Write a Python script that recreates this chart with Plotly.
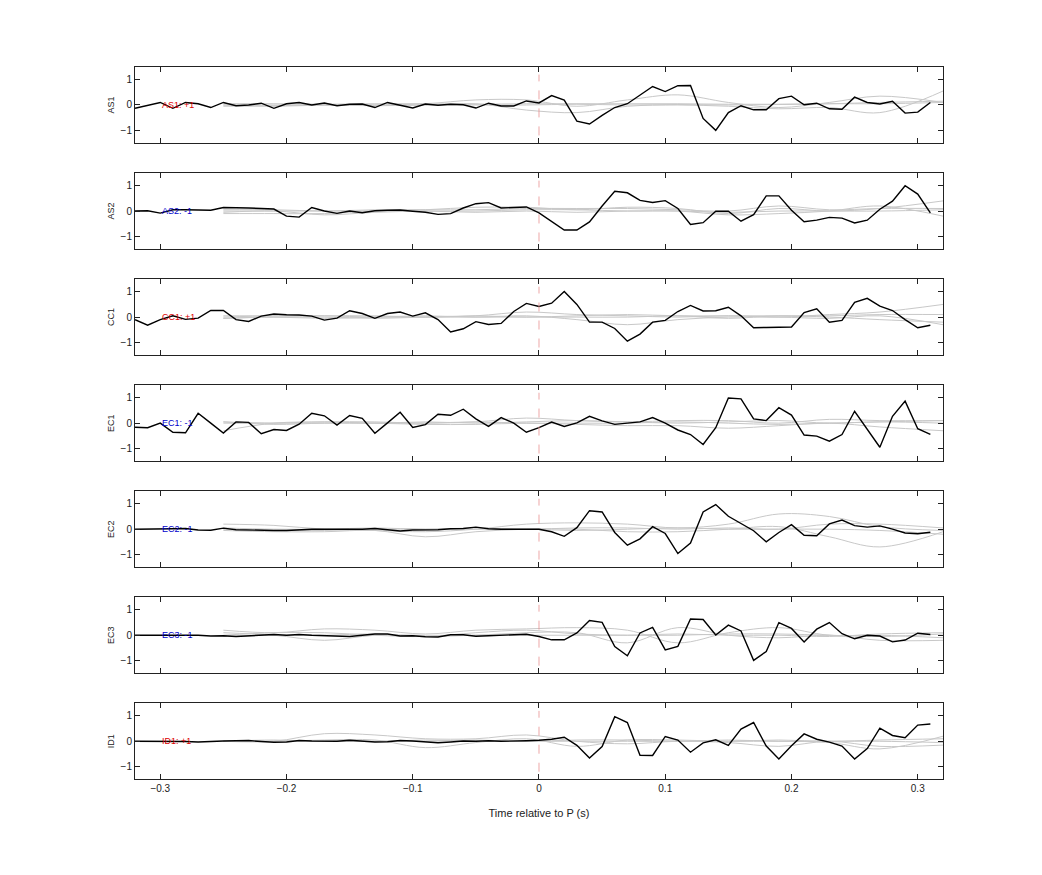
import plotly.graph_objects as go
from plotly.subplots import make_subplots

# sample times of the black (stacked) traces, -0.32 .. 0.31 s every 10 ms
t = [round(-0.32 + 0.01 * i, 2) for i in range(64)]
# coarse sample times of the light grey single traces
gray_t = [-0.25, -0.21, -0.17, -0.13, -0.09, -0.05, -0.01, 0.03, 0.07, 0.11,
          0.15, 0.19, 0.23, 0.27, 0.32]

stations = ["AS1", "AS2", "CC1", "EC1", "EC2", "EC3", "ID1"]
polarity = ["+1", "-1", "+1", "-1", "-1", "-1", "+1"]

black = {
    "AS1": [-0.13, -0.02, 0.1, -0.13, 0.1, 0.05, -0.1, 0.1, -0.03, 0.0, 0.07, -0.13, 0.05,
            0.1, 0.0, 0.08, -0.03, 0.03, 0.04, -0.1, 0.1, -0.01, -0.12, 0.04, -0.01,
            0.03, 0.01, -0.12, 0.07, -0.04, -0.04, 0.16, 0.08, 0.37, 0.19, -0.64, -0.75,
            -0.41, -0.1, 0.05, 0.39, 0.73, 0.53, 0.76, 0.77, -0.53, -1.0, -0.3, -0.03,
            -0.19, -0.19, 0.25, 0.35, 0.01, 0.07, -0.15, -0.17, 0.31, 0.1, 0.04, 0.15,
            -0.32, -0.28, 0.1],
    "AS2": [0.0, 0.01, -0.08, 0.05, 0.05, 0.04, 0.03, 0.14, 0.14, 0.12, 0.1, 0.08,
            -0.2, -0.24, 0.14, 0.0, -0.09, 0.0, -0.07, 0.01, 0.03, 0.04, -0.01, -0.05,
            -0.13, -0.1, 0.12, 0.29, 0.33, 0.12, 0.14, 0.16, -0.07, -0.4, -0.75, -0.75,
            -0.43, 0.2, 0.78, 0.72, 0.42, 0.34, 0.41, 0.1, -0.53, -0.46, -0.01, -0.01,
            -0.4, -0.14, 0.6, 0.6, 0.03, -0.42, -0.36, -0.25, -0.28, -0.47, -0.36, 0.07,
            0.39, 1.0, 0.67, -0.07],
    "CC1": [-0.1, -0.32, -0.1, 0.05, -0.09, -0.04, 0.26, 0.26, -0.1, -0.17, 0.04, 0.12,
            0.09, 0.08, 0.04, -0.12, -0.04, 0.25, 0.14, -0.05, 0.14, 0.2, 0.04, 0.17,
            -0.1, -0.59, -0.46, -0.18, -0.29, -0.25, 0.22, 0.54, 0.42, 0.55, 1.01, 0.5,
            -0.2, -0.2, -0.45, -0.95, -0.67, -0.2, -0.13, 0.22, 0.46, 0.24, 0.25, 0.39,
            0.05, -0.42, -0.41, -0.41, -0.39, 0.18, 0.33, -0.2, -0.13, 0.58, 0.74, 0.43,
            0.26, -0.1, -0.42, -0.32],
    "EC1": [-0.16, -0.18, 0.0, -0.36, -0.38, 0.39, 0.0, -0.39, 0.05, 0.03, -0.42, -0.25,
            -0.29, -0.04, 0.39, 0.29, -0.08, 0.3, 0.19, -0.4, 0.01, 0.43, -0.17, -0.06,
            0.35, 0.31, 0.55, 0.17, -0.13, 0.22, 0.0, -0.36, -0.18, 0.04, -0.13, 0.01,
            0.27, 0.09, -0.05, 0.01, 0.05, 0.22, 0.0, -0.27, -0.45, -0.84, -0.18, 0.99,
            0.96, 0.17, 0.1, 0.61, 0.32, -0.47, -0.51, -0.71, -0.45, 0.47, -0.22, -0.95,
            0.27, 0.87, -0.22, -0.44],
    "EC2": [0.0, 0.0, 0.0, 0.02, 0.03, -0.03, -0.04, 0.04, -0.02, -0.04, -0.03, -0.05,
            -0.05, -0.02, 0.0, 0.0, 0.0, -0.01, 0.0, 0.03, -0.03, -0.07, -0.03, -0.03,
            -0.02, 0.02, 0.03, 0.08, 0.02, 0.0, 0.0, 0.0, 0.0, -0.1, -0.28, 0.06,
            0.73, 0.68, -0.13, -0.63, -0.38, 0.1, -0.17, -0.96, -0.55, 0.68, 0.97, 0.51,
            0.24, -0.06, -0.5, -0.13, 0.18, -0.24, -0.26, 0.21, 0.36, 0.14, 0.08, 0.13,
            0.0, -0.15, -0.18, -0.12],
    "EC3": [0.0, 0.0, 0.0, 0.0, 0.01, 0.0, -0.03, -0.02, -0.05, -0.02, 0.02, 0.03,
            0.0, 0.03, 0.0, -0.02, -0.03, -0.05, 0.0, 0.05, 0.05, -0.03, -0.02, -0.06,
            -0.07, 0.02, 0.02, -0.04, -0.02, 0.0, 0.01, 0.04, -0.05, -0.18, -0.18, 0.09,
            0.58, 0.51, -0.45, -0.81, 0.09, 0.31, -0.58, -0.44, 0.64, 0.62, 0.01, 0.4,
            0.17, -0.99, -0.64, 0.5, 0.27, -0.27, 0.24, 0.5, 0.06, -0.14, 0.0, -0.03,
            -0.26, -0.19, 0.08, 0.03],
    "ID1": [0.0, 0.0, 0.0, 0.0, -0.01, -0.03, 0.0, 0.01, 0.02, 0.03, -0.01, -0.04,
            -0.03, 0.03, 0.01, -0.01, 0.0, 0.04, 0.0, -0.03, -0.02, 0.03, 0.01, -0.03,
            -0.06, -0.03, 0.01, 0.0, 0.02, 0.0, 0.0, 0.02, 0.04, 0.08, 0.16, -0.16,
            -0.66, -0.21, 0.97, 0.74, -0.55, -0.56, 0.19, 0.05, -0.43, -0.06, 0.06, -0.16,
            0.48, 0.74, -0.19, -0.7, -0.18, 0.29, 0.08, -0.03, -0.19, -0.7, -0.29, 0.52,
            0.23, 0.14, 0.64, 0.68],
}

gray = {
    "AS1": [[0.0, 0.0, 0.0, 0.0, 0.05, 0.2, 0.2, -0.05, 0.2, 0.4, 0.1, -0.1, 0.1, 0.35, 0.1],
            [0.0, -0.05, 0.0, 0.0, 0.0, 0.05, -0.2, -0.3, -0.05, 0.0, -0.05, -0.15, -0.1, -0.3, 0.55],
            [0.05, 0.05, 0.03, 0.05, 0.05, 0.03, 0.05, 0.05, 0.05, 0.05, 0.03, 0.03, 0.05, 0.1, 0.15],
            [-0.05, -0.03, 0.0, -0.03, 0.0, 0.0, 0.0, 0.03, 0.0, 0.02, 0.0, 0.02, 0.05, 0.05, 0.1]],
    "AS2": [[-0.1, -0.1, -0.1, 0.0, 0.05, 0.15, 0.15, 0.05, 0.15, 0.1, -0.1, 0.1, 0.0, 0.1, 0.4],
            [0.05, 0.05, 0.0, 0.05, 0.05, 0.05, 0.1, 0.1, 0.1, 0.05, 0.0, 0.2, 0.05, 0.1, 0.1],
            [-0.05, 0.0, -0.15, -0.05, 0.0, 0.0, 0.05, 0.05, 0.0, 0.0, -0.15, -0.1, 0.0, 0.2, -0.2],
            [0.0, 0.0, 0.0, 0.0, 0.0, -0.05, 0.0, -0.05, 0.0, 0.0, -0.05, 0.0, 0.0, 0.0, 0.05]],
    "CC1": [[0.0, 0.05, 0.05, 0.05, 0.0, 0.05, 0.2, 0.1, 0.05, 0.0, 0.05, 0.0, 0.1, 0.2, 0.5],
            [-0.05, 0.0, -0.05, 0.0, 0.05, 0.0, 0.05, -0.1, -0.3, -0.1, 0.0, 0.0, -0.05, 0.05, -0.3],
            [0.05, 0.05, 0.05, 0.0, 0.0, 0.05, 0.0, 0.05, 0.1, 0.05, 0.05, 0.05, 0.05, 0.1, 0.1],
            [-0.05, 0.0, 0.0, -0.05, 0.0, 0.0, 0.0, 0.0, 0.0, 0.05, -0.05, 0.05, 0.0, -0.1, -0.2]],
    "EC1": [[-0.3, 0.0, 0.05, 0.05, 0.0, 0.05, 0.2, 0.1, 0.05, 0.1, 0.1, 0.0, 0.15, 0.1, 0.1],
            [0.05, 0.0, 0.0, 0.0, -0.05, -0.05, 0.0, -0.05, -0.1, -0.1, -0.2, -0.1, 0.0, -0.15, -0.3],
            [0.0, 0.0, 0.05, 0.0, 0.05, 0.0, 0.05, 0.1, 0.05, 0.0, 0.05, 0.1, 0.0, 0.05, 0.0],
            [0.05, -0.05, 0.0, 0.0, 0.0, 0.05, 0.0, 0.0, 0.0, 0.05, 0.0, -0.05, 0.0, 0.05, 0.1]],
    "EC2": [[0.2, 0.15, 0.0, -0.05, -0.1, 0.0, 0.2, 0.25, 0.2, 0.05, 0.2, 0.6, 0.5, 0.1, -0.05],
            [-0.05, -0.1, -0.1, -0.05, -0.3, -0.1, 0.0, 0.0, -0.1, -0.1, 0.0, 0.1, -0.3, -0.7, -0.1],
            [0.05, 0.0, 0.0, 0.05, 0.0, 0.05, 0.0, 0.05, 0.05, 0.0, 0.05, 0.0, 0.2, 0.2, 0.05],
            [0.0, -0.05, -0.05, 0.0, 0.0, 0.0, 0.0, -0.05, 0.0, 0.05, 0.0, 0.0, 0.0, -0.05, -0.2]],
    "EC3": [[0.2, 0.1, 0.25, 0.2, 0.05, 0.2, 0.25, 0.3, 0.2, -0.3, 0.1, 0.3, 0.0, 0.0, -0.1],
            [0.1, 0.0, -0.2, 0.0, 0.0, 0.0, 0.1, 0.1, -0.3, 0.3, 0.0, -0.1, 0.0, -0.2, -0.2],
            [0.0, 0.1, 0.1, 0.0, -0.05, 0.1, 0.2, 0.05, 0.0, 0.0, 0.05, 0.05, 0.0, -0.05, 0.05],
            [-0.05, 0.0, 0.0, 0.05, -0.05, 0.0, 0.0, 0.0, 0.0, 0.05, 0.0, 0.0, -0.05, 0.05, 0.1]],
    "ID1": [[0.0, 0.0, 0.3, 0.25, 0.1, 0.1, 0.25, 0.0, -0.1, 0.0, -0.05, -0.2, 0.0, -0.2, -0.15],
            [0.0, 0.0, 0.05, 0.05, -0.25, -0.05, 0.1, -0.2, 0.05, 0.05, 0.0, 0.0, -0.05, -0.3, 0.2],
            [0.0, 0.05, 0.0, 0.0, 0.0, 0.05, 0.0, 0.05, 0.05, 0.0, 0.0, 0.05, 0.0, 0.05, 0.1],
            [0.0, 0.0, 0.0, 0.0, 0.05, 0.0, 0.0, 0.0, 0.0, 0.0, 0.05, 0.0, 0.0, 0.0, -0.05]],
}

xticks = [-0.3, -0.2, -0.1, 0, 0.1, 0.2, 0.3]

n = len(stations)
fig = make_subplots(rows=n, cols=1, shared_xaxes=True, vertical_spacing=0.03)

for i, sta in enumerate(stations, start=1):
    for g in gray[sta]:
        fig.add_trace(go.Scatter(x=gray_t, y=g, mode="lines", line=dict(color="#c8c8c8", width=1, shape="spline"),
                                 hoverinfo="skip", showlegend=False), row=i, col=1)
    fig.add_trace(go.Scatter(x=t, y=black[sta], mode="lines", line=dict(color="black", width=1.4),
                             showlegend=False), row=i, col=1)
    fig.add_shape(type="line", x0=0, x1=0, y0=-1.2, y1=1.2,
                  line=dict(color="#e89090", width=0.8, dash="dash"), row=i, col=1)
    col = "#dd0000" if polarity[i - 1] == "+1" else "#0000cc"
    fig.add_annotation(x=-0.3, y=0, text=f"{sta}: {polarity[i - 1]}", showarrow=False, xanchor="left",
                       font=dict(size=9, color=col), row=i, col=1)

# panel placement (paper coords)
top, h, gap = 0.9326, 0.0869, 0.0343
for i in range(n):
    y1 = top - i * (h + gap)
    fig.layout[f"yaxis{i + 1 if i else ''}"].domain = [y1 - h, y1]
    fig.layout[f"xaxis{i + 1 if i else ''}"].domain = [0.1219, 0.8973]

fig.update_xaxes(range=[-0.32, 0.32], tickvals=xticks, ticks="inside", ticklen=5, mirror="ticks",
                 showline=True, linecolor="#222", linewidth=1, showgrid=False, zeroline=False,
                 tickcolor="#222", tickfont=dict(size=10, color="#222"))
fig.update_xaxes(title_text="Time relative to P (s)", title_font=dict(size=11, color="#222"), row=n, col=1)
fig.update_yaxes(range=[-1.5, 1.5], tickvals=[-1, 0, 1], ticks="inside", ticklen=5, mirror="ticks",
                 showline=True, linecolor="#222", linewidth=1, showgrid=False, zeroline=False,
                 tickcolor="#222", tickfont=dict(size=10, color="#222"))
for i, sta in enumerate(stations, start=1):
    fig.update_yaxes(title_text=sta, title_font=dict(size=9, color="#222"), title_standoff=4, row=i, col=1)

fig.update_layout(width=1042, height=875, plot_bgcolor="white", paper_bgcolor="white",
                  font=dict(family="Liberation Sans, Arial, sans-serif"),
                  margin=dict(l=0, r=0, t=0, b=0))

fig.write_html("out.html")
